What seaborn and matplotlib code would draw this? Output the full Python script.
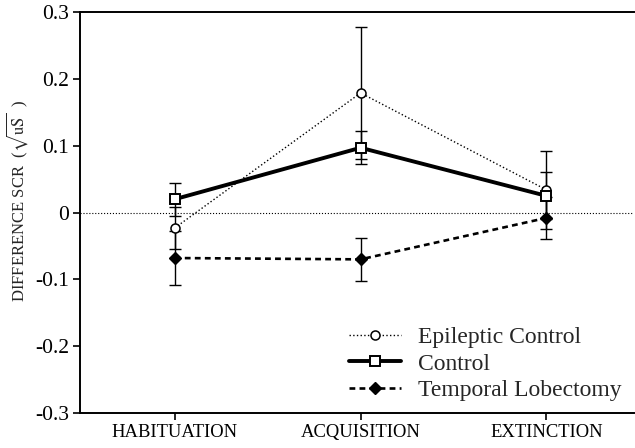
import matplotlib
matplotlib.use("Agg")
import matplotlib.pyplot as plt
import pandas as pd
import seaborn as sns

phases = ["HABITUATION", "ACQUISITION", "EXTINCTION"]

epileptic_mean = [-0.023, 0.179, 0.034]
epileptic_err = [0.031, 0.099, 0.058]

control_mean = [0.020, 0.097, 0.025]
control_err = [0.025, 0.025, 0.035]

lobectomy_mean = [-0.068, -0.070, -0.008]
lobectomy_err = [0.041, 0.032, 0.031]

yticks = [0.3, 0.2, 0.1, 0, -0.1, -0.2, -0.3]
ytick_labels = ["0.3", "0.2", "0.1", "0", "-0.1", "-0.2", "-0.3"]

sns.set_style("ticks")
plt.rcParams["font.family"] = ["Liberation Serif", "DejaVu Serif"]
plt.rcParams["mathtext.fontset"] = "stix"

fig = plt.figure(figsize=(6.35, 4.48), dpi=100)
ax = fig.add_axes([0.126, 0.078, 0.872, 0.895])

groups = [
    ("Epileptic Control", epileptic_mean, epileptic_err,
     dict(linestyle=":", linewidth=1.0, marker="o", markersize=6.5,
          markerfacecolor="white", markeredgewidth=1.1)),
    ("Control", control_mean, control_err,
     dict(linestyle="-", linewidth=2.8, marker="s", markersize=7.5,
          markerfacecolor="white", markeredgewidth=1.4)),
    ("Temporal Lobectomy", lobectomy_mean, lobectomy_err,
     dict(linestyle=(0, (2.2, 1.6)), linewidth=1.9, marker="D", markersize=6,
          markerfacecolor="black", markeredgewidth=1.0)),
]

x = list(range(len(phases)))
ax.axhline(0, color="black", linewidth=0.8, linestyle=":", zorder=1)

for name, mean, err, style in groups:
    df = pd.DataFrame({"x": x, "y": mean})
    ax.errorbar(x, mean, yerr=err, fmt="none", ecolor="black",
                elinewidth=1.0, capsize=4, capthick=1.0, zorder=2)
    sns.lineplot(data=df, x="x", y="y", ax=ax, color="black", label=name,
                 markeredgecolor="black", zorder=3, **style)

ax.set_xlim(-0.51, 2.47)
ax.set_ylim(-0.3, 0.3)
ax.set_xticks(x)
ax.set_xticklabels(phases, fontsize=13.4)
ax.set_yticks(yticks)
ax.set_yticklabels(ytick_labels, fontsize=15.5)
ax.set_xlabel("")
ax.set_ylabel(r"DIFFERENCE SCR  ($\sqrt{\mathrm{uS}}$  )", fontsize=12)
ax.yaxis.set_label_coords(-0.09, 0.53)
ax.tick_params(direction="out", length=5, width=1.2, colors="black", pad=3)

for side in ["left", "bottom", "top"]:
    ax.spines[side].set_linewidth(1.4)
    ax.spines[side].set_color("black")
ax.spines["right"].set_visible(False)

ax.legend(loc="lower right", bbox_to_anchor=(1.0, 0.0), frameon=False,
          fontsize=17, handlelength=2.2, handletextpad=0.75,
          labelspacing=0.22, borderaxespad=0.2, borderpad=0.3)

fig.savefig("out.png", dpi=100)
